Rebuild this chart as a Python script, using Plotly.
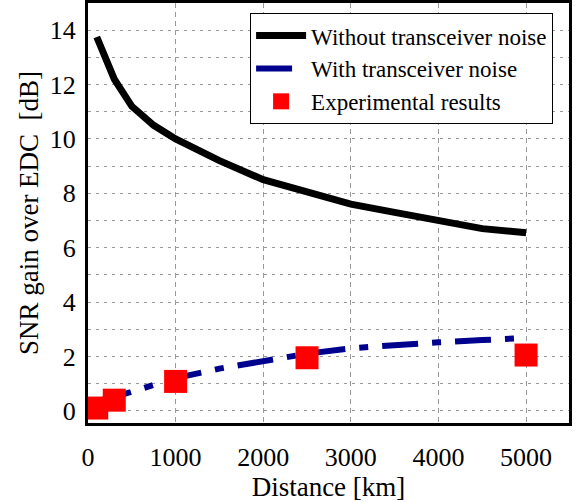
import plotly.graph_objects as go

# Data
dist_sim = [100, 200, 300, 500, 750, 1000, 1500, 2000, 2500, 3000, 3500, 4000, 4500, 5000]
gain_no_trx = [13.75, 13.0, 12.2, 11.2, 10.5, 10.0, 9.2, 8.5, 8.05, 7.6, 7.3, 7.0, 6.7, 6.55]
gain_trx = [0.3, 0.45, 0.5, 0.7, 0.95, 1.2, 1.55, 1.85, 2.1, 2.3, 2.42, 2.52, 2.6, 2.68]
dist_exp = [100, 300, 1000, 2500, 5000]
gain_exp = [0.1, 0.39, 1.08, 1.95, 2.05]

font_family = "Liberation Serif"

fig = go.Figure()
fig.add_trace(go.Scatter(x=dist_sim, y=gain_no_trx, mode="lines",
                         name="Without transceiver noise",
                         line=dict(color="black", width=7)))
fig.add_trace(go.Scatter(x=dist_sim, y=gain_trx, mode="lines",
                         name="With transceiver noise",
                         line=dict(color="#00008f", width=6, dash="36px,14px,9px,14px")))
fig.add_trace(go.Scatter(x=dist_exp, y=gain_exp, mode="markers",
                         name="Experimental results",
                         marker=dict(symbol="square", size=23, color="#ff0000",
                                     line=dict(width=0))))

fig.update_layout(
    width=579, height=502,
    margin=dict(l=88, r=10, t=3, b=79, autoexpand=False),
    paper_bgcolor="white", plot_bgcolor="white",
    font=dict(family=font_family, color="black", size=26),
    showlegend=True,
    legend=dict(x=0.337, y=0.976, xanchor="left", yanchor="top",
                bordercolor="black", borderwidth=1, bgcolor="white",
                font=dict(size=23, family=font_family), tracegroupgap=0,
                itemwidth=50),
)
fig.update_xaxes(
    range=[0, 5490], tickvals=[0, 1000, 2000, 3000, 4000, 5000],
    showline=True, linecolor="black", linewidth=3, mirror=True,
    showgrid=True, gridcolor="#999999", griddash="5px,4px", gridwidth=1,
    ticks="", zeroline=False, automargin=False, ticklabelstandoff=9,
    tickfont=dict(size=26, family=font_family),
    title=dict(text="Distance [km]", font=dict(size=27, family=font_family), standoff=2),
)
fig.update_yaxes(
    range=[-0.45, 15], tickvals=[0, 2, 4, 6, 8, 10, 12, 14],
    showline=True, linecolor="black", linewidth=3, mirror=True,
    showgrid=True, gridcolor="#999999", griddash="3px,5px", gridwidth=1,
    minor=dict(dtick=1, showgrid=True, gridcolor="#999999", griddash="3px,5px", gridwidth=1),
    ticks="", zeroline=False, automargin=False, ticklabelstandoff=4,
    tickfont=dict(size=26, family=font_family),
    title=dict(text="SNR gain over EDC  [dB]", font=dict(size=27, family=font_family), standoff=4),
)

fig.write_html("out.html", config={"displayModeBar": False},
               post_script="document.body.style.margin='0px';document.body.style.overflow='hidden';")
